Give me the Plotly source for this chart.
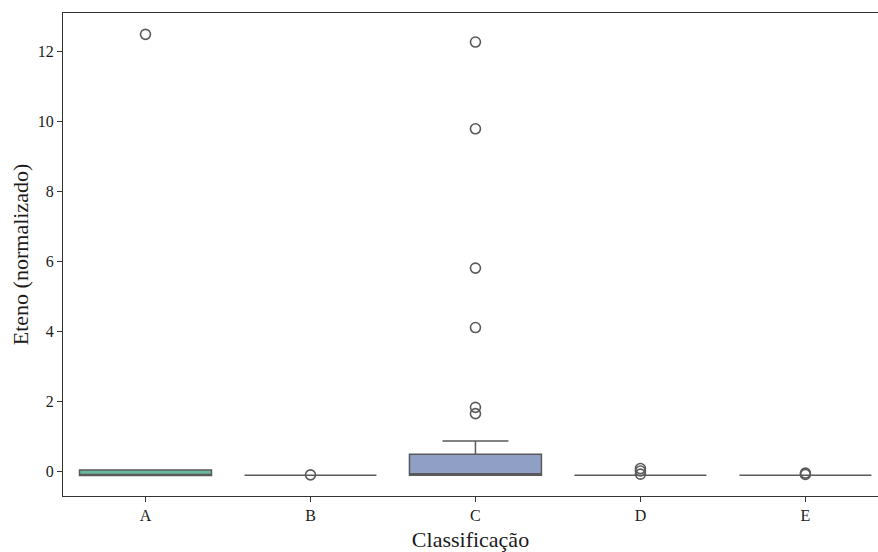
import plotly.graph_objects as go

categories = ["A", "B", "C", "D", "E"]
q1 = [-0.13, -0.12, -0.12, -0.12, -0.12]
median = [-0.11, -0.12, -0.08, -0.12, -0.12]
q3 = [0.03, -0.12, 0.48, -0.12, -0.12]
lower_fence = [-0.13, -0.12, -0.12, -0.12, -0.12]
upper_fence = [0.03, -0.12, 0.86, -0.12, -0.12]
outliers = {
    "A": [12.48],
    "B": [-0.11],
    "C": [12.26, 9.78, 5.8, 4.1, 1.82, 1.64],
    "D": [0.07, 0.0, -0.09],
    "E": [-0.06, -0.1],
}
fill_colors = ["#6bb99c", "#ee946c", "#8f9fc6", "#d98fbc", "#a5cf64"]
line_color = "#5a5a5a"

fig = go.Figure()
for i, c in enumerate(categories):
    fig.add_trace(go.Box(
        x=[c], q1=[q1[i]], median=[median[i]], q3=[q3[i]],
        lowerfence=[lower_fence[i]], upperfence=[upper_fence[i]],
        fillcolor=fill_colors[i], line=dict(color=line_color, width=1.5),
        width=0.8, whiskerwidth=0.5, boxpoints=False, showlegend=False,
    ))
    fig.add_trace(go.Scatter(
        x=[c] * len(outliers[c]), y=outliers[c], mode="markers",
        marker=dict(symbol="circle-open", size=10, color=line_color,
                    line=dict(width=1.6, color=line_color)),
        showlegend=False, hoverinfo="y",
    ))

fig.update_layout(
    width=878, height=552,
    margin=dict(l=63, r=0, t=13, b=56),
    paper_bgcolor="white", plot_bgcolor="white",
    font=dict(family="Liberation Serif, Times New Roman, serif", color="#1a1a1a"),
)
fig.update_xaxes(
    type="category", categoryorder="array", categoryarray=categories,
    range=[-0.5, 4.44], showline=True, linecolor="#333", linewidth=1.2,
    mirror=True, ticks="outside", ticklen=5, tickcolor="#333",
    showgrid=False, zeroline=False, tickfont=dict(size=16),
    title=dict(text="Classificação", font=dict(size=22), standoff=8),
)
fig.update_yaxes(
    range=[-0.714, 13.09], tickvals=[0, 2, 4, 6, 8, 10, 12],
    showline=True, linecolor="#333", linewidth=1.2, mirror=False,
    ticks="outside", ticklen=5, tickcolor="#333",
    showgrid=False, zeroline=False, tickfont=dict(size=16),
    title=dict(text="Eteno (normalizado)", font=dict(size=22), standoff=3),
)

fig.write_html("out.html")
